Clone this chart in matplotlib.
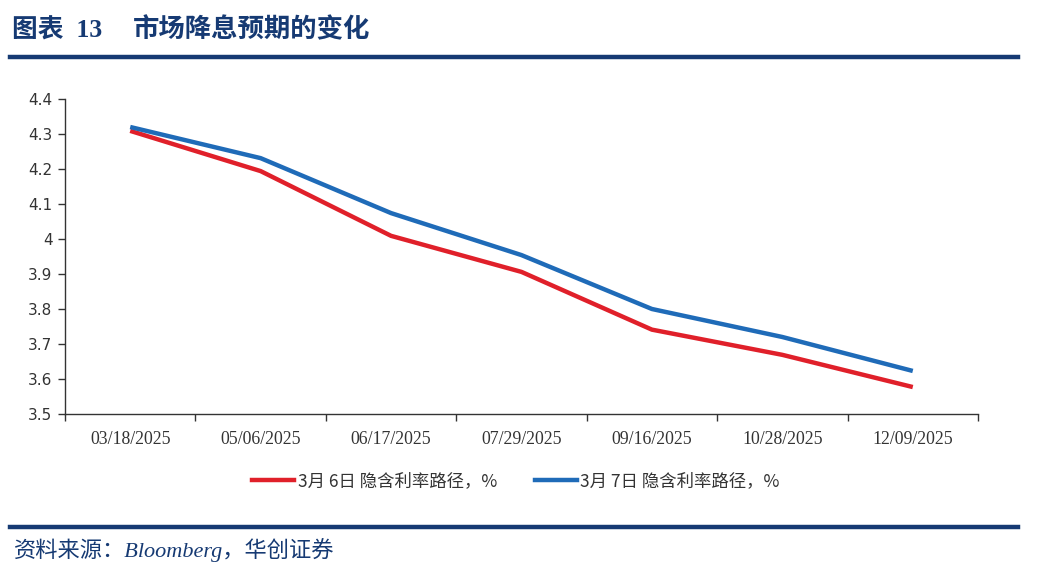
import matplotlib
matplotlib.use("Agg")
import matplotlib.pyplot as plt
from matplotlib.lines import Line2D
import numpy as np

dates = ["03/18/2025", "05/06/2025", "06/17/2025", "07/29/2025", "09/16/2025", "10/28/2025", "12/09/2025"]
mar6 = [4.309, 4.194, 4.009, 3.906, 3.741, 3.669, 3.577]
mar7 = [4.320, 4.231, 4.074, 3.954, 3.800, 3.720, 3.623]
yticks = [3.5, 3.6, 3.7, 3.8, 3.9, 4.0, 4.1, 4.2, 4.3, 4.4]
ytick_labels = ["3.5", "3.6", "3.7", "3.8", "3.9", "4", "4.1", "4.2", "4.3", "4.4"]
label6 = "3月 6日 隐含利率路径，%"
label7 = "3月 7日 隐含利率路径，%"
title_a = "图表  13"
title_b = "市场降息预期的变化"
source = "资料来源：Bloomberg，华创证券"

CJK = ["Noto Sans CJK SC", "DejaVu Sans"]
SERIF_CJK = ["Liberation Serif", "Noto Sans CJK SC"]
NAVY = "#163a73"
RED = "#e0202a"
BLUE = "#1f6bb8"
TXT = "#333333"

fig = plt.figure(figsize=(10.4, 5.8), dpi=100)
W, H = 1040, 580

ax = fig.add_axes([65 / W, 1 - 414 / H, (978 - 65) / W, (414 - 99) / H])
x = np.arange(len(dates))
ax.plot(x, mar6, color=RED, lw=3.2, solid_capstyle="butt")
ax.plot(x, mar7, color=BLUE, lw=3.2, solid_capstyle="butt")
ax.set_xlim(-0.5, len(dates) - 0.5)
ax.set_ylim(3.5, 4.4)
ax.set_yticks(yticks)
ax.set_yticklabels(ytick_labels, fontsize=11, color=TXT, family="DejaVu Sans")
ax.set_xticks(x)
ax.set_xticklabels(dates, fontsize=12.8, color=TXT, family="Liberation Serif")
ax.tick_params(axis="x", length=0, pad=12)
ax.set_xticks(np.arange(len(dates) + 1) - 0.5, minor=True)
ax.tick_params(axis="x", which="minor", length=5, width=1, color="#333333", direction="out")
ax.tick_params(axis="y", length=5, width=1, color="#333333", direction="out", pad=4)
for s in ["top", "right"]:
    ax.spines[s].set_visible(False)
for s in ["left", "bottom"]:
    ax.spines[s].set_color("#333333")
    ax.spines[s].set_linewidth(1)

# legend
handles = [Line2D([0], [0], color=RED, lw=3.2), Line2D([0], [0], color=BLUE, lw=3.2)]
leg = fig.legend(handles, [label6, label7], loc="center", bbox_to_anchor=(516 / W, 1 - 481 / H),
                 ncol=2, frameon=False, prop={"family": CJK, "size": 12.5},
                 handlelength=2.4, handletextpad=0.2, columnspacing=2.2)
for t in leg.get_texts():
    t.set_color(TXT)

# title and decorative lines
fig.text(12 / W, 1 - 30 / H, title_a, fontsize=18.5, fontweight="bold", color=NAVY,
         family=["Liberation Serif", "Noto Sans CJK SC"], va="center", ha="left")
fig.text(133 / W, 1 - 30 / H, title_b, fontsize=19, fontweight="bold", color=NAVY,
         family=CJK, va="center", ha="left")
fig.add_artist(Line2D([10 / W, 1018 / W], [1 - 57 / H, 1 - 57 / H], color=NAVY, lw=3.2))
fig.add_artist(Line2D([10 / W, 1018 / W], [1 - 527 / H, 1 - 527 / H], color=NAVY, lw=3.2))
fig.text(14 / W, 1 - 550 / H, source, fontsize=16, style="italic", color=NAVY,
         family=SERIF_CJK, va="center", ha="left")

fig.savefig("out.png", dpi=100, facecolor="white")
